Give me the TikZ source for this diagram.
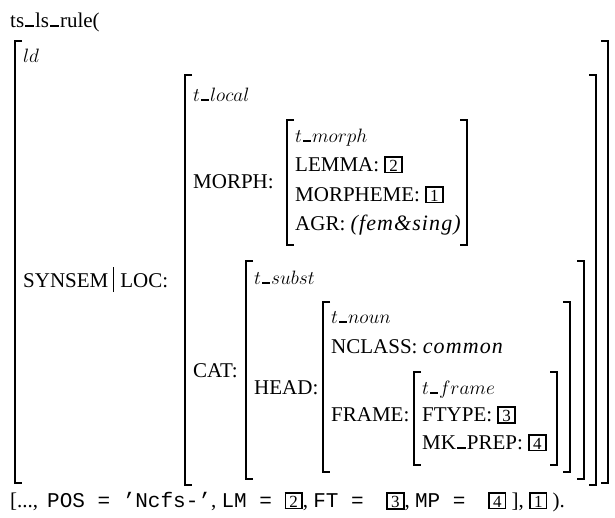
\documentclass[tikz,border=0pt]{standalone}
\usepackage[no-math]{fontspec}
\usepackage{graphicx}
\setmainfont{Liberation Serif}
\setmonofont{Liberation Mono}
\newfontfamily\itwide{Liberation Serif Italic}[LetterSpace=5]

% low underscore bar as in the typeset rule names
\newcommand\usc{\kern.05em\rule{.42em}{.1em}\kern.05em}
% boxed tag numbers
\newcommand\tagbox[1]{{\setlength\fboxsep{0.6pt}\setlength\fboxrule{1.8pt}%
  \fbox{\makebox[13.5pt]{\rule{0pt}{12.5pt}\fontsize{17}{17}\selectfont #1}}}}
\newcommand\rmsz{\fontsize{21}{24}\selectfont}
\newcommand\typsz{\fontsize{17.28}{20}\selectfont}
\newcommand\ttsz{\fontsize{21}{24}\selectfont\ttfamily}
\newcommand\val[1]{{\fontsize{22}{24}\selectfont\itwide #1}}
\newcommand\typ[1]{\scalebox{1.12}{$#1$}}
% attribute-value matrix brackets: x, top, bottom
\newcommand\avmL[3]{\draw[brk] (#1+7,#2) -| (#1,#3) -- (#1+7,#3);}
\newcommand\avmR[3]{\draw[brk] (#1-7,#2) -| (#1,#3) -- (#1-7,#3);}

\begin{document}
\begin{tikzpicture}[x=1pt,y=-1pt,
  lbl/.style={anchor=base west, inner sep=0pt, font=\rmsz},
  typ/.style={anchor=base west, inner sep=0pt, font=\typsz},
  brk/.style={line width=1.9pt}]
\useasboundingbox (0,0) rectangle (615,517);

% heading
\node[lbl] (title) at (10,27) {ts\usc ls\usc rule(};

% outer structure
\avmL{15}{41}{483}
\avmR{608}{41}{483}
\node[typ] (ld) at (23,62) {\typ{ld}};
\node[lbl] (synloc) at (23,287) {SYNSEM\hspace{5pt}\rule[-5pt]{0.9pt}{25pt}\hspace{6pt}LOC:};

% local value
\avmL{185}{75}{485}
\avmR{596}{75}{485}
\node[typ] (tlocal) at (193,101) {\typ{t\usc local}};
\node[lbl] (morph) at (193,188) {MORPH:};

% morph value
\avmL{287}{120}{245}
\avmR{467}{120}{245}
\node[typ] (tmorph) at (295,142) {\typ{t\usc morph}};
\node[lbl] (lemma) at (295,171) {LEMMA: \tagbox{2}};
\node[lbl] (morpheme) at (295,201) {MORPHEME: \tagbox{1}};
\node[lbl] (agr) at (295,230) {AGR: \val{(fem\&sing)}};

% cat value
\node[lbl] (cat) at (193,377) {CAT:};
\avmL{246}{261}{479}
\avmR{584}{261}{479}
\node[typ] (tsubst) at (254,284) {\typ{t\usc subst}};
\node[lbl] (head) at (254,394) {HEAD:};

% head value
\avmL{323}{302}{472}
\avmR{570}{302}{472}
\node[typ] (tnoun) at (331,323) {\typ{t\usc noun}};
\node[lbl] (nclass) at (331,353) {NCLASS: \val{common}};
\node[lbl] (frame) at (331,421) {FRAME:};

% frame value
\avmL{414}{372}{465}
\avmR{557}{372}{465}
\node[typ] (tframe) at (422,394) {\typ{t\usc frame}};
\node[lbl] (ftype) at (422,421) {FTYPE: \tagbox{3}};
\node[lbl] (mkprep) at (422,449) {MK\usc PREP: \tagbox{4}};

% closing line
\node[lbl] (tail) at (10,507) {[...,\hspace{9pt}{\ttsz POS = ’Ncfs-’}, {\ttsz LM = }\tagbox{2}, {\ttsz FT = }\hspace{10pt}\tagbox{3}, {\ttsz MP = }\hspace{10pt}\tagbox{4} ], \tagbox{1} ).};
\end{tikzpicture}
\end{document}
